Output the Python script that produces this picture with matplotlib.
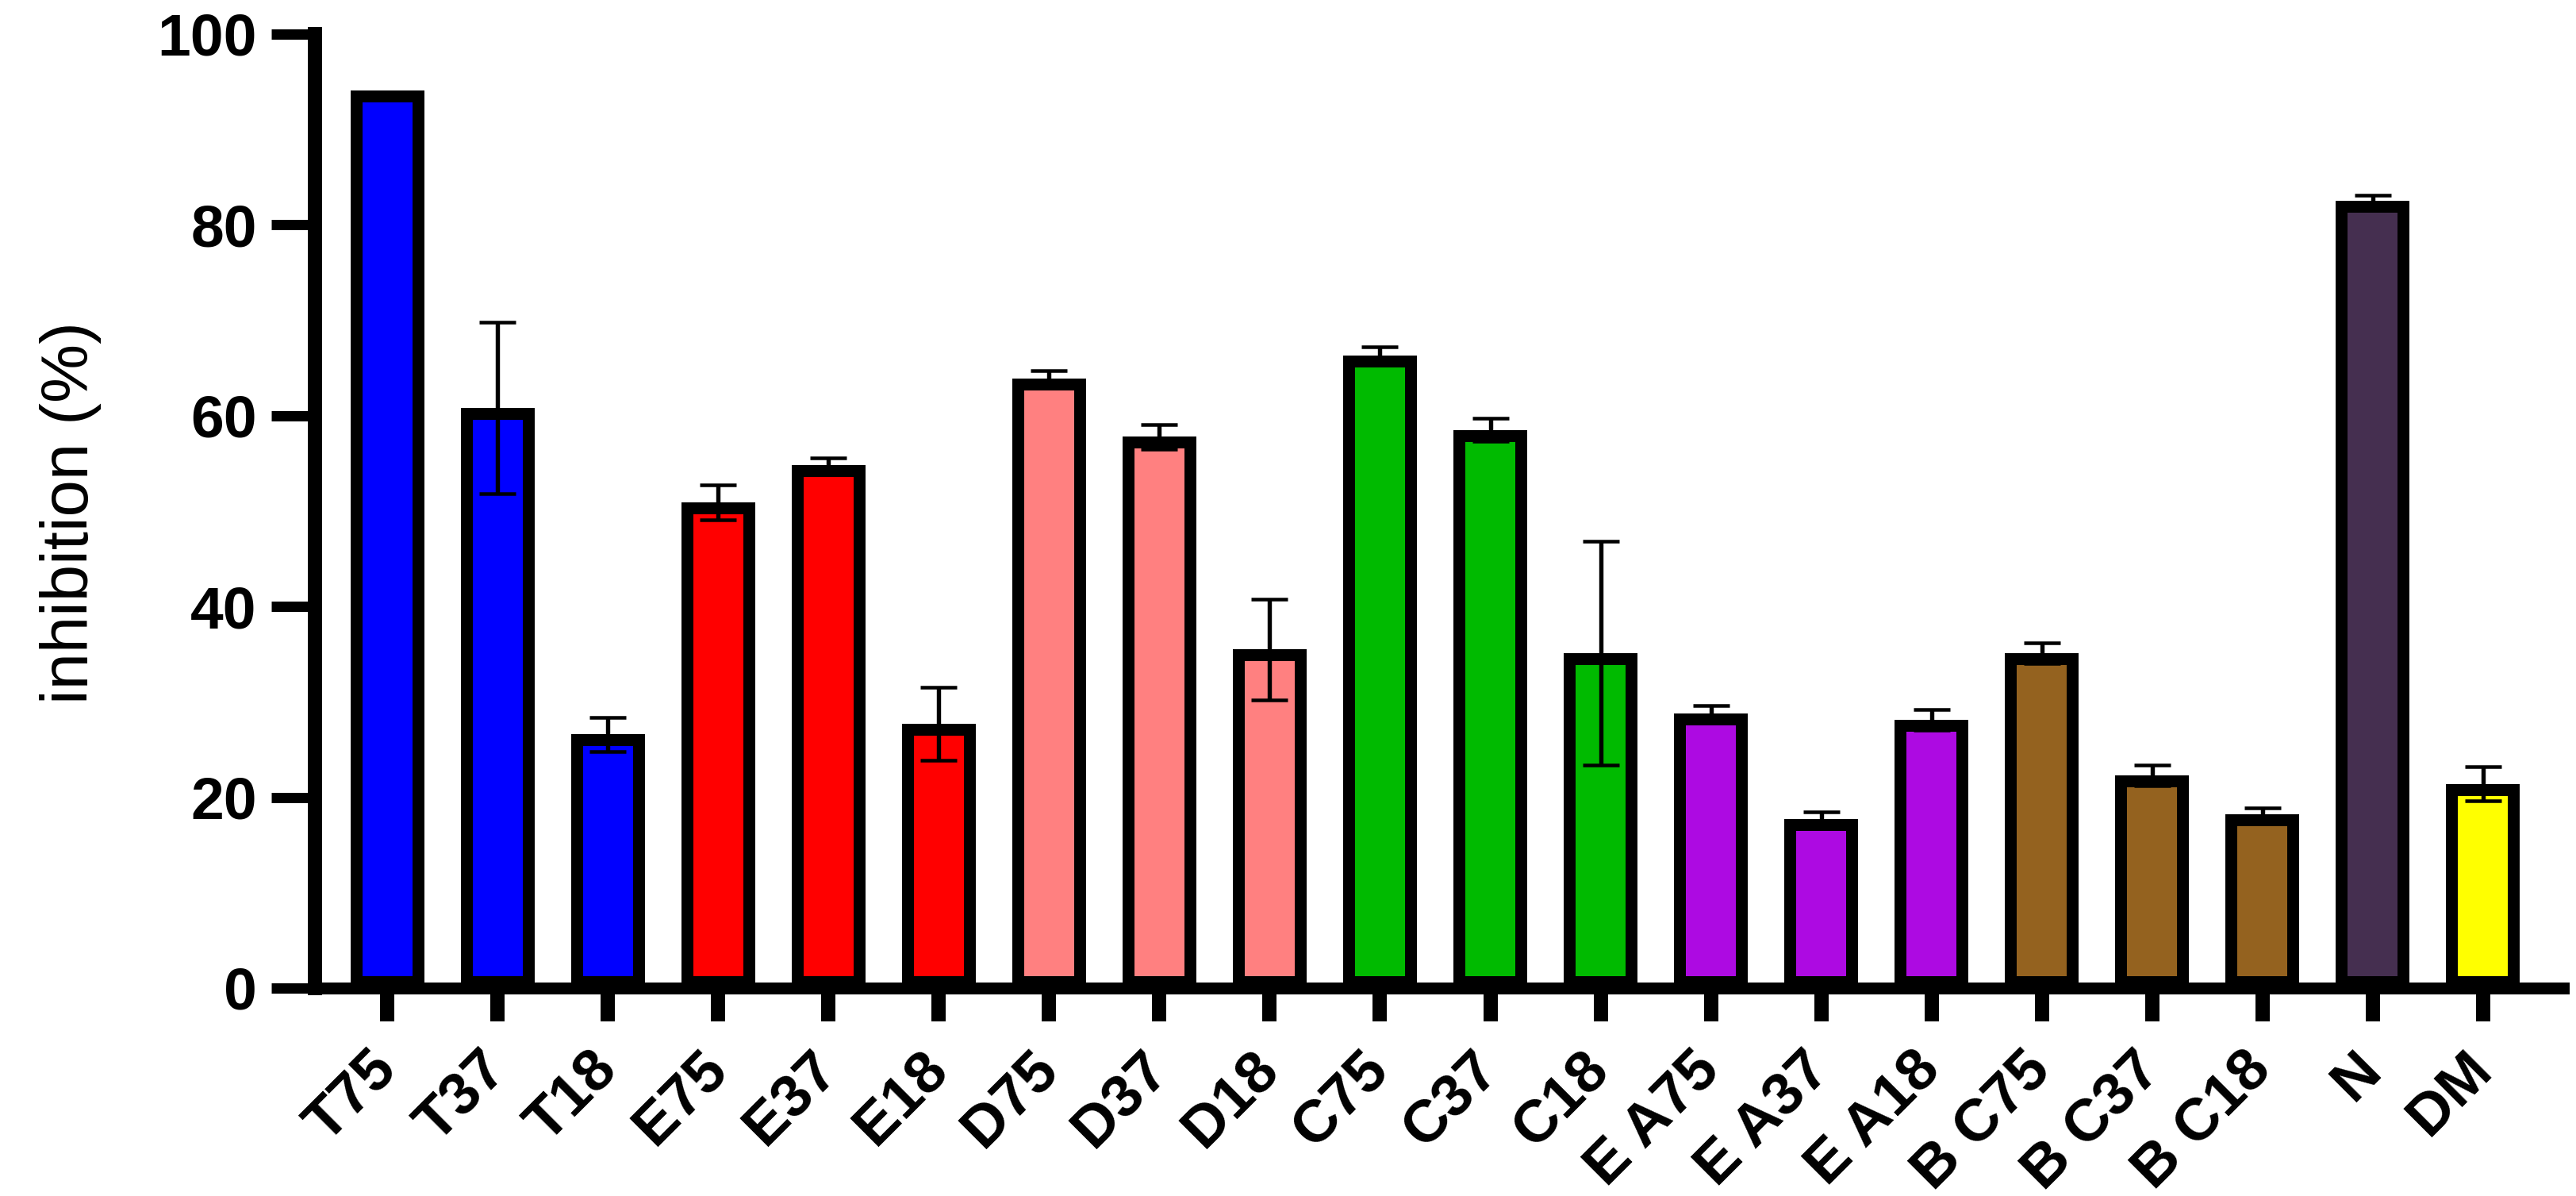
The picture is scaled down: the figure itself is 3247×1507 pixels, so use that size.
"""
Inhibition (%) bar chart with SD error bars
"""
import matplotlib as mpl
import matplotlib.pyplot as plt
import numpy as np

mpl.rcParams['font.family'] = ['Liberation Sans', 'DejaVu Sans']

# data
labels = ['T75', 'T37', 'T18', 'E75', 'E37', 'E18', 'D75', 'D37', 'D18',
          'C75', 'C37', 'C18', 'E A75', 'E A37', 'E A18',
          'B C75', 'B C37', 'B C18', 'N', 'DM']
inhibition = [94.1, 60.8, 26.6, 50.9, 54.8, 27.7, 63.9, 57.8, 35.5,
              66.3, 58.5, 35.1, 28.8, 17.7, 28.1,
              35.1, 22.3, 18.2, 82.5, 21.4]
sd = [0.0, 9.0, 1.8, 1.8, 0.8, 3.8, 0.8, 1.3, 5.3,
      0.9, 1.2, 11.7, 0.8, 0.8, 1.1,
      1.1, 1.1, 0.7, 0.6, 1.8]
bar_colors = ['#0000FF'] * 3 + ['#FF0000'] * 3 + ['#FF8080'] * 3 + \
             ['#00BA00'] * 3 + ['#AD0AE2'] * 3 + ['#94621F'] * 3 + \
             ['#452F50', '#FFFF00']

DPI = 200
px = 72 / DPI  # points per output pixel

fig = plt.figure(figsize=(3248 / DPI, 1507 / DPI), dpi=DPI)
ax = fig.add_axes([0.1222, 0.1739, 0.8726, 0.7976])

x = np.arange(len(labels))
# border drawn inside the bar (GraphPad style): double width, clipped to bar
bars = ax.bar(x, inhibition, width=0.67, color=bar_colors,
              edgecolor='black', linewidth=30 * px, zorder=2)
for b in bars:
    b.set_clip_path(b)

# error bars only where an SD exists
has_err = np.array(sd) > 0
ax.errorbar(x[has_err], np.array(inhibition)[has_err],
            yerr=np.array(sd)[has_err], fmt='none', ecolor='black',
            elinewidth=5.4 * px, capsize=23 * px, capthick=4.5 * px,
            zorder=3)

ax.set_xlim(-0.658, 19.73)
ax.set_ylim(0, 100)
ax.set_yticks([0, 20, 40, 60, 80, 100])

for side in ['top', 'right']:
    ax.spines[side].set_visible(False)
ax.spines['left'].set_linewidth(18 * px)
ax.spines['bottom'].set_linewidth(15 * px)
for side in ['left', 'bottom']:
    ax.spines[side].set_capstyle('projecting')
    ax.spines[side].set_zorder(4)

ax.tick_params(axis='y', direction='out', length=55 * px, width=13 * px,
               pad=6.5, labelsize=27)
ax.tick_params(axis='x', direction='out', length=42 * px, width=18 * px,
               pad=18, labelsize=27)

for lab in ax.get_yticklabels():
    lab.set_fontweight('bold')

ax.set_xticks(x)
ax.set_xticklabels(labels, rotation=45, ha='right', va='center',
                   rotation_mode='anchor', fontweight='bold')

fig.text(89 / 3248, 1 - 646 / 1507, 'inhibition (%)', rotation=90,
         ha='center', va='center', fontsize=30)

fig.savefig('out.png', dpi=DPI)
plt.close('all')
